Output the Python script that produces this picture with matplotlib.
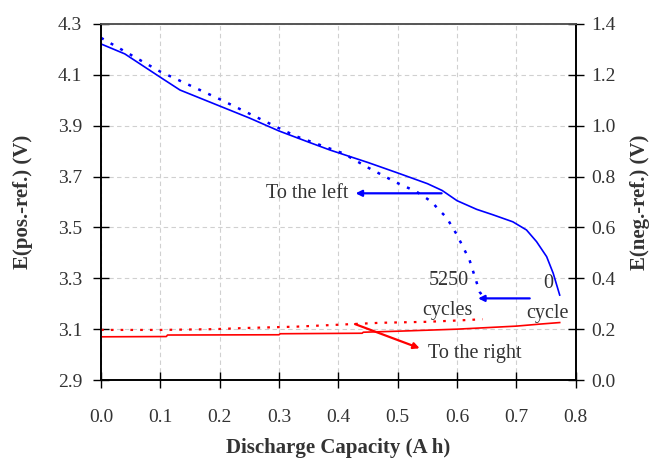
import matplotlib
matplotlib.use("Agg")
import matplotlib.pyplot as plt

plt.rcParams['font.family'] = ['Liberation Serif', 'DejaVu Serif']
plt.rcParams['mathtext.fontset'] = 'stix'

# positive electrode, 0 cycle (left axis)
pos0_x = [0, 0.04, 0.1, 0.133, 0.167, 0.2, 0.25, 0.3, 0.35, 0.386, 0.45, 0.5, 0.55,
          0.575, 0.6, 0.633, 0.66, 0.694, 0.717, 0.734, 0.751, 0.762, 0.773]
pos0_v = [4.221, 4.182, 4.09, 4.04, 4.008, 3.977, 3.93, 3.879, 3.835, 3.804, 3.755, 3.714, 3.672,
          3.645, 3.605, 3.571, 3.55, 3.522, 3.49, 3.444, 3.385, 3.32, 3.234]
# positive electrode, 5250 cycles (left axis)
pos5250_x = [0, 0.1, 0.2, 0.3, 0.33, 0.408, 0.45, 0.498, 0.532, 0.557, 0.571, 0.582,
             0.6, 0.621, 0.629, 0.638, 0.643]
pos5250_v = [4.245, 4.112, 4.004, 3.89, 3.857, 3.791, 3.735, 3.676, 3.64, 3.601, 3.565, 3.54,
             3.47, 3.372, 3.313, 3.247, 3.23]
# negative electrode, 0 cycle (right axis)
neg0_x = [0, 0.11, 0.112, 0.30, 0.302, 0.44, 0.442, 0.5, 0.55, 0.6, 0.65, 0.7, 0.74, 0.773]
neg0_v = [0.170, 0.171, 0.177, 0.178, 0.182, 0.184, 0.188, 0.192, 0.196, 0.200, 0.206, 0.212, 0.220, 0.226]
# negative electrode, 5250 cycles (right axis)
neg5250_x = [0, 0.1, 0.19, 0.25, 0.33, 0.386, 0.47, 0.55, 0.6, 0.643]
neg5250_v = [0.197, 0.197, 0.2, 0.205, 0.21, 0.216, 0.225, 0.229, 0.234, 0.239]

x_ticks = [0.0, 0.1, 0.2, 0.3, 0.4, 0.5, 0.6, 0.7, 0.8]
left_ticks = [2.9, 3.1, 3.3, 3.5, 3.7, 3.9, 4.1, 4.3]
right_ticks = [0.0, 0.2, 0.4, 0.6, 0.8, 1.0, 1.2, 1.4]

fig = plt.figure(figsize=(6.52, 4.59), dpi=100)
ax = fig.add_axes([0.155, 0.172, 0.728, 0.776])
ax2 = ax.twinx()

blue = '#0000FF'
red = '#FF0000'
dotted = (0, (1.2, 3.2))

ax.plot(pos0_x, pos0_v, color=blue, lw=1.2)
ax.plot(pos5250_x, pos5250_v, color=blue, lw=1.8, ls=dotted)
ax2.plot(neg0_x, neg0_v, color=red, lw=1.2)
ax2.plot(neg5250_x, neg5250_v, color=red, lw=1.6, ls=dotted)

ax.set_xlim(0, 0.8)
ax.set_ylim(2.9, 4.3)
ax2.set_ylim(0, 1.4)
ax.set_xticks(x_ticks)
ax.set_xticklabels([f"{t:.1f}" for t in x_ticks])
ax.set_yticks(left_ticks)
ax.set_yticklabels([f"{t:.1f}" for t in left_ticks])
ax2.set_yticks(right_ticks)
ax2.set_yticklabels([f"{t:.1f}" for t in right_ticks])

ax.grid(True, color='#d0d0d0', ls=(0, (4, 3)), lw=0.8)
ax.set_axisbelow(True)

tc = '#333333'
for a in (ax, ax2):
    a.tick_params(direction='inout', length=11, width=1.0, labelsize=14, colors='black',
                  labelcolor=tc, pad=6)
    for s in a.spines.values():
        s.set_linewidth(1.2)
    a.spines['top'].set_color('#555555')
ax.tick_params(axis='x', pad=15)
ax.tick_params(axis='y', pad=8)

ax.set_xlabel('Discharge Capacity (A h)', fontsize=15, fontweight='bold', color=tc, labelpad=9)
ax.set_ylabel('E(pos.-ref.) (V)', fontsize=15, fontweight='bold', color=tc, labelpad=18)
ax2.set_ylabel('E(neg.-ref.) (V)', fontsize=15, fontweight='bold', color=tc, labelpad=10)

ap_b = dict(arrowstyle='-|>', color=blue, lw=1.6, mutation_scale=9, shrinkA=0, shrinkB=0)
ap_r = dict(arrowstyle='-|>', color=red, lw=1.6, mutation_scale=9, shrinkA=0, shrinkB=0)

fs = 14.5
ax.annotate('', xy=(0.429, 3.634), xytext=(0.574, 3.634), arrowprops=ap_b)
ax.text(0.416, 3.634, 'To the left', ha='right', va='center', fontsize=fs, color=tc)

ax.annotate('', xy=(0.6355, 3.221), xytext=(0.7225, 3.221), arrowprops=ap_b)
ax.text(0.586, 3.29, '5250', ha='center', va='center', fontsize=fs, color=tc)
ax.text(0.584, 3.175, 'cycles', ha='center', va='center', fontsize=fs, color=tc)
ax.text(0.753, 3.281, '0', ha='center', va='center', fontsize=fs, color=tc)
ax.text(0.752, 3.163, 'cycle', ha='center', va='center', fontsize=fs, color=tc)

ax.annotate('', xy=(0.537, 3.025), xytext=(0.428, 3.12), arrowprops=ap_r)
ax.text(0.551, 3.006, 'To the right', ha='left', va='center', fontsize=fs, color=tc)

fig.savefig('out.png', dpi=100)
